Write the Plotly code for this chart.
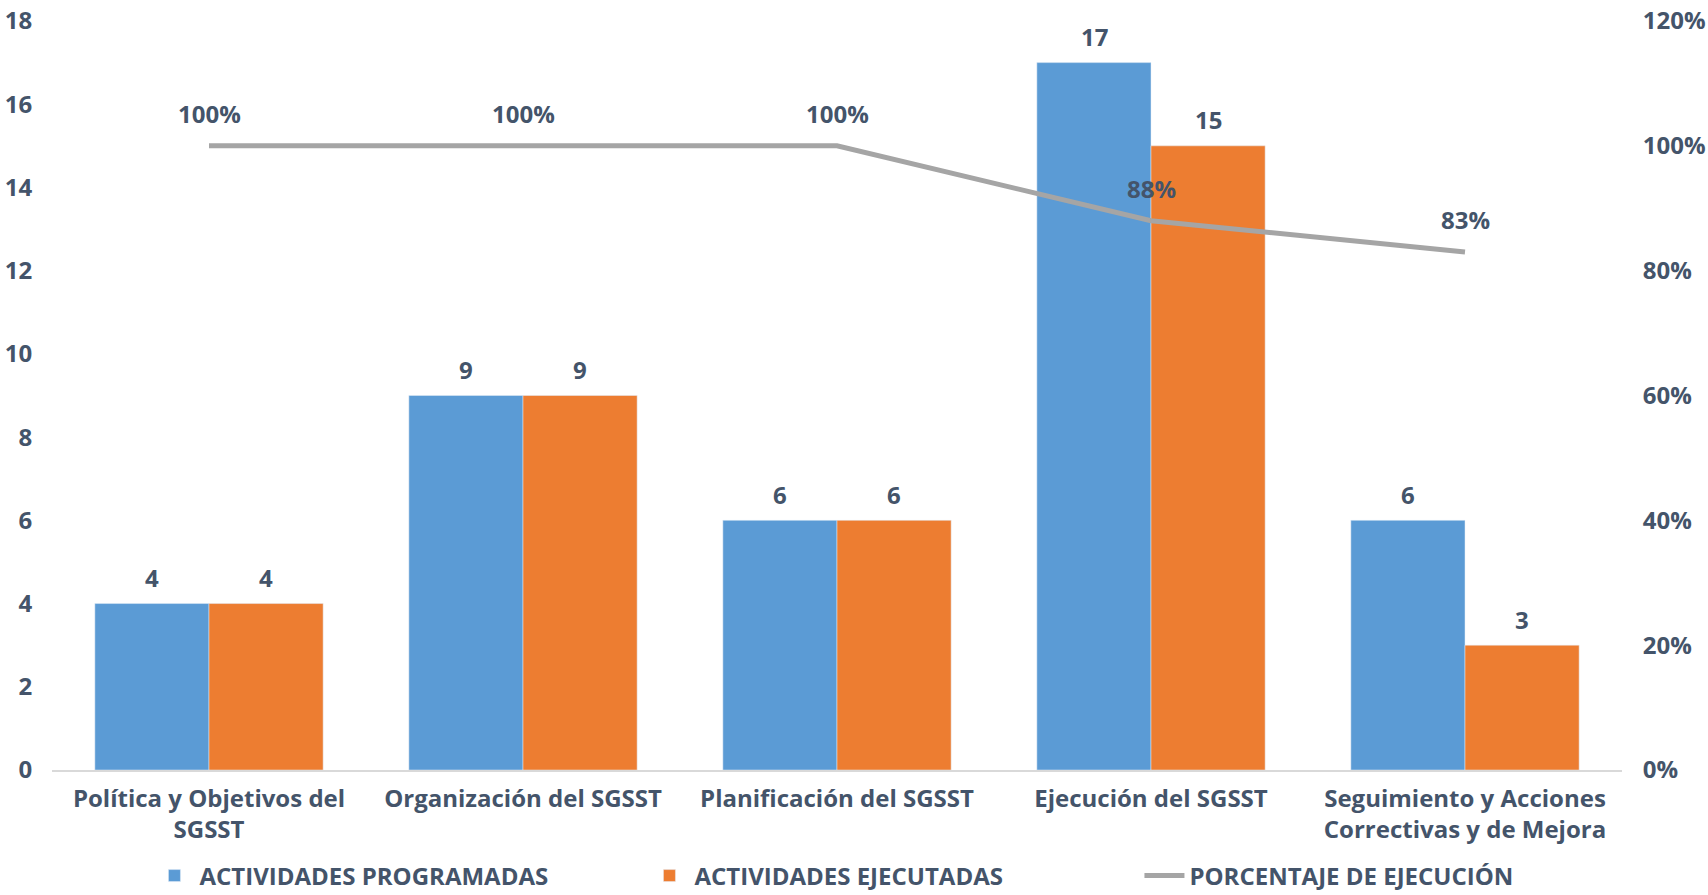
import plotly.graph_objects as go

categories = ["Política y Objetivos del<br>SGSST", "Organización del SGSST", "Planificación del SGSST",
              "Ejecución del SGSST", "Seguimiento y Acciones<br>Correctivas y de Mejora"]
programadas = [4, 9, 6, 17, 6]
ejecutadas = [4, 9, 6, 15, 3]
porcentaje = [1.00, 1.00, 1.00, 0.88, 0.83]
pct_labels = ["100%", "100%", "100%", "88%", "83%"]

TXT = "#44546A"
FONT = "Open Sans"
FS = 24

fig = go.Figure()
fig.add_trace(go.Bar(x=categories, y=programadas, name="ACTIVIDADES PROGRAMADAS",
                     marker_color="#5B9BD5", hoverinfo="skip"))
fig.add_trace(go.Bar(x=categories, y=ejecutadas, name="ACTIVIDADES EJECUTADAS",
                     marker_color="#ED7D31", hoverinfo="skip"))
fig.add_trace(go.Scatter(x=categories, y=porcentaje, name="PORCENTAJE DE EJECUCIÓN",
                         mode="lines", yaxis="y2",
                         line=dict(color="#A5A5A5", width=5),
                         hoverinfo="skip"))

annotations = []
half = 57
for c, v in zip(categories, programadas):
    annotations.append(dict(x=c, y=v, xref="x", yref="y", text=str(v), showarrow=False,
                            xshift=-half, yshift=26, font=dict(family=FONT, size=FS, color=TXT, weight="bold")))
for c, v in zip(categories, ejecutadas):
    annotations.append(dict(x=c, y=v, xref="x", yref="y", text=str(v), showarrow=False,
                            xshift=half, yshift=26, font=dict(family=FONT, size=FS, color=TXT, weight="bold")))
for c, v, t in zip(categories, porcentaje, pct_labels):
    annotations.append(dict(x=c, y=v, xref="x", yref="y2", text=t, showarrow=False,
                            yshift=32, font=dict(family=FONT, size=FS, color=TXT, weight="bold")))

fig.update_layout(
    width=1708, height=895,
    margin=dict(l=52, r=86, t=21, b=125, autoexpand=False),
    paper_bgcolor="white", plot_bgcolor="white",
    font=dict(family=FONT, size=FS, color=TXT, weight="bold"),
    barmode="group", bargap=0.273, bargroupgap=0,
    showlegend=True,
    legend=dict(orientation="h", x=0.535, xanchor="center", y=-0.1415, yanchor="middle",
                font=dict(family=FONT, size=FS, color=TXT, weight="bold"),
                itemwidth=40, traceorder="normal", entrywidth=440, entrywidthmode="pixels"),
    xaxis=dict(showgrid=False, showline=True, linecolor="#D9D9D9", linewidth=1.5,
               ticks="outside", ticklen=6, tickcolor="rgba(0,0,0,0)", automargin=False,
               tickfont=dict(family=FONT, size=FS, color=TXT, weight="bold")),
    yaxis=dict(range=[0, 18], dtick=2, showgrid=False, zeroline=False, showline=False,
               ticks="outside", ticklen=14, tickcolor="rgba(0,0,0,0)", automargin=False,
               tickfont=dict(family=FONT, size=FS, color=TXT, weight="bold")),
    yaxis2=dict(range=[0, 1.2], dtick=0.2, tickformat=".0%", overlaying="y", side="right",
                showgrid=False, zeroline=False, showline=False, automargin=False,
                ticks="outside", ticklen=15, tickcolor="rgba(0,0,0,0)",
                tickfont=dict(family=FONT, size=FS, color=TXT, weight="bold")),
    annotations=annotations,
)

fig.write_html("out.html", config={"displayModeBar": False},
               post_script="document.body.style.margin='0';document.body.style.overflow='hidden';")
